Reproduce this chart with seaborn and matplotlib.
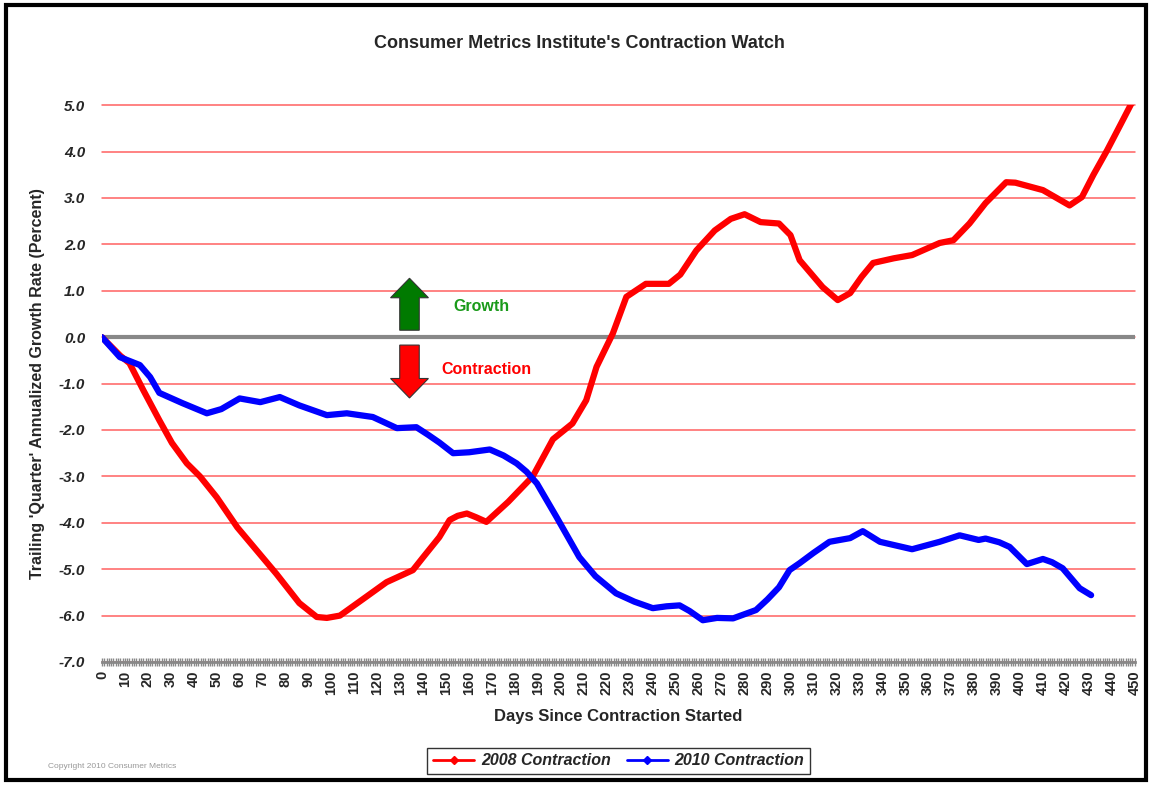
import numpy as np
import pandas as pd
import matplotlib
matplotlib.use("Agg")
import matplotlib.pyplot as plt
import seaborn as sns
from matplotlib.lines import Line2D
from matplotlib.patches import FancyArrow, Rectangle

##################################################################################################
# Values
days_2008 = [0, 8, 12, 18, 25, 30.5, 37, 42.7, 50, 59, 67.5, 76, 86, 93.6, 98, 103.7, 115, 124,
             135.5, 140, 147, 151.5, 155, 159, 163, 167.5, 177, 187.7, 196.5, 205, 211, 215.5,
             222.6, 228.5, 237, 247, 252, 259, 267, 274, 280, 287, 295, 300, 304, 314, 320.6,
             326, 331, 336, 345, 353, 365, 371, 378, 385, 394, 398, 410, 416, 421.6, 427, 432,
             438, 444, 448.6]
rate_2008 = [0.0, -0.4, -0.56, -1.14, -1.79, -2.28, -2.72, -3.0, -3.45, -4.1, -4.6, -5.1,
             -5.73, -6.03, -6.05, -6.0, -5.6, -5.28, -5.02, -4.74, -4.31, -3.94, -3.85, -3.8,
             -3.88, -3.98, -3.55, -3.0, -2.2, -1.86, -1.36, -0.64, 0.08, 0.87, 1.15, 1.15, 1.35,
             1.87, 2.3, 2.55, 2.65, 2.48, 2.45, 2.2, 1.66, 1.08, 0.8, 0.95, 1.3, 1.6, 1.7, 1.77,
             2.03, 2.09, 2.45, 2.89, 3.34, 3.33, 3.17, 3.0, 2.84, 3.02, 3.5, 4.03, 4.6, 5.04]

days_2010 = [0, 7.8, 16.5, 21, 25, 35, 45.7, 52, 60, 69, 77.5, 86, 98, 106.7, 118, 128.5, 137,
             142, 147, 153, 160, 169, 175, 180.7, 185, 189.5, 198, 208, 215, 224, 232, 240, 246,
             251.7, 256, 261.8, 268, 275, 285, 290, 295, 299.6, 304, 310, 317, 326, 331.5, 339,
             353, 365, 373.7, 382, 385, 391, 395.5, 403, 410, 414, 418.6, 426, 431]
rate_2010 = [0.0, -0.43, -0.6, -0.86, -1.2, -1.42, -1.64, -1.55, -1.32, -1.4, -1.29, -1.47,
             -1.68, -1.64, -1.72, -1.96, -1.94, -2.1, -2.27, -2.5, -2.48, -2.42, -2.55, -2.72,
             -2.9, -3.15, -3.87, -4.74, -5.15, -5.52, -5.7, -5.84, -5.8, -5.78, -5.9, -6.1,
             -6.05, -6.06, -5.88, -5.65, -5.39, -5.02, -4.87, -4.65, -4.41, -4.33, -4.18, -4.41,
             -4.57, -4.41, -4.27, -4.37, -4.34, -4.42, -4.52, -4.89, -4.78, -4.85, -4.98,
             -5.41, -5.56]

series_names = ["2008 Contraction", "2010 Contraction"]
series_colors = ["#ff0000", "#0000ff"]
y_ticks = [5.0, 4.0, 3.0, 2.0, 1.0, 0.0, -1.0, -2.0, -3.0, -4.0, -5.0, -6.0, -7.0]

df = pd.concat([
    pd.DataFrame({"day": days_2008, "rate": rate_2008, "series": series_names[0]}),
    pd.DataFrame({"day": days_2010, "rate": rate_2010, "series": series_names[1]}),
])

##################################################################################################
sns.set_style("white")
plt.rcParams['font.family'] = ['Liberation Sans', 'DejaVu Sans']

fig = plt.figure(figsize=(11.52, 7.85), dpi=100)
ax = fig.add_axes([0.0885, 0.1567, 0.8965, 0.7093])

# red grid lines
for v in y_ticks:
    ax.axhline(v, color="#ff6060", lw=1.1, zorder=0, clip_on=False)
ax.axhline(0, color="#888888", lw=3, zorder=1)

sns.lineplot(data=df, x="day", y="rate", hue="series", palette=series_colors,
             linewidth=4.5, ax=ax, legend=False, zorder=3,
             solid_joinstyle="round", solid_capstyle="round")

ax.set_xlim(0, 450)
ax.set_ylim(-7, 5)
ax.set_xticks(np.arange(0, 451, 10))
ax.set_xticks(np.arange(0, 451, 1), minor=True)
ax.set_xticklabels([str(d) for d in range(0, 451, 10)], rotation=90,
                   fontweight="bold", fontsize=10.5)
ax.set_yticks(y_ticks)
ax.set_yticklabels([f"{v:.1f}" for v in y_ticks], fontweight="bold", fontstyle="italic",
                   fontsize=11)
ax.tick_params(axis="x", which="both", bottom=True, direction="inout", length=6, width=1,
               color="#888888", pad=3)
ax.tick_params(axis="y", length=0, pad=12)

for side in ["top", "right", "left"]:
    ax.spines[side].set_visible(False)
ax.spines["bottom"].set_color("#888888")
ax.spines["bottom"].set_linewidth(2)

ax.set_xlabel("Days Since Contraction Started", fontsize=12, fontweight="bold", labelpad=10)
ax.set_ylabel("Trailing 'Quarter' Annualized Growth Rate (Percent)", fontsize=11.5,
              fontweight="bold", labelpad=10)

# growth / contraction arrows
ax.add_patch(FancyArrow(134, 0.15, 0, 1.12, width=8.5, head_width=16.5, head_length=0.42,
                        length_includes_head=True, facecolor="#007a00", edgecolor="#333333",
                        lw=0.8, zorder=4))
ax.add_patch(FancyArrow(134, -0.17, 0, -1.14, width=8.5, head_width=16.5, head_length=0.42,
                        length_includes_head=True, facecolor="#ff0000", edgecolor="#333333",
                        lw=0.8, zorder=4))
ax.text(153, 0.67, "Growth", color="#1a9a1a", fontsize=11.5, fontweight="bold", va="center")
ax.text(148, -0.69, "Contraction", color="#ff0000", fontsize=11.5, fontweight="bold",
        va="center")

fig.text(0.503, 0.944, "Consumer Metrics Institute's Contraction Watch", ha="center",
         va="center", fontsize=13, fontweight="bold")

handles = [Line2D([0], [0], color=c, lw=2, marker="D", markersize=4) for c in series_colors]
leg = fig.legend(handles, series_names, loc="center", bbox_to_anchor=(0.537, 0.031), ncol=2,
                 frameon=True, fancybox=False, handlelength=2.6, columnspacing=1.0,
                 handletextpad=0.4, borderpad=0.35,
                 prop={"weight": "bold", "style": "italic", "size": 11.5})
leg.get_frame().set_edgecolor("black")
leg.get_frame().set_linewidth(1)

fig.text(0.042, 0.024, "Copyright 2010 Consumer Metrics", fontsize=6, color="#999999",
         va="center")

# black outer frame
fig.patches.append(Rectangle((0.005, 0.006), 0.99, 0.988, transform=fig.transFigure,
                             fill=False, edgecolor="black", lw=3))

plt.savefig("out.png", dpi=100)
